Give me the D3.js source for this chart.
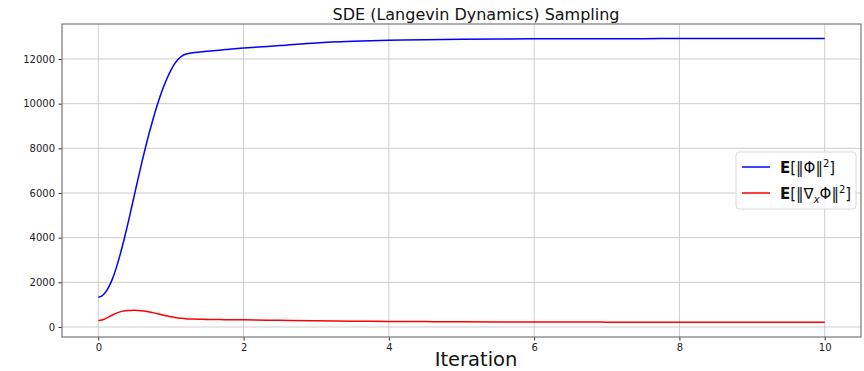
<!DOCTYPE html>
<html>
<head>
<meta charset="utf-8">
<script src="https://cdn.jsdelivr.net/npm/d3@7"></script>
<style>
  body { margin: 0; background: #fff; }
  text { font-family: "DejaVu Sans", sans-serif; }
</style>
</head>
<body>
<div id="chart"></div>
<script>
// iteration (x axis, scaled)
var iterX = [0, 0.05, 0.1, 0.15, 0.2, 0.25, 0.3, 0.35, 0.4, 0.45, 0.5, 0.55, 0.6, 0.65, 0.7,
    0.75, 0.8, 0.85, 0.9, 0.95, 1.0, 1.05, 1.1, 1.15, 1.2, 1.3, 1.4, 1.5, 1.75, 2.0, 2.5,
    3.0, 3.5, 4.0, 4.5, 5.0, 5.5, 6.0, 6.5, 7.0, 7.5, 8.0, 8.5, 9.0, 9.5, 10.0];

// E[||Phi||^2]
var phiNorm = [1330, 1390, 1560, 1830, 2200, 2680, 3240, 3860, 4530, 5240, 5960, 6680, 7380, 8050, 8680,
    9270, 9820, 10320, 10770, 11160, 11500, 11780, 11990, 12130, 12210, 12280, 12315, 12345, 12420, 12490, 12600,
    12720, 12790, 12835, 12865, 12885, 12898, 12905, 12908, 12910, 12912, 12914, 12917, 12916, 12918, 12918];

// E[||grad_x Phi||^2]
var gradNorm = [290, 312, 375, 462, 550, 622, 677, 713, 734, 744, 745, 738, 723, 702, 675,
    643, 606, 567, 528, 491, 458, 429, 405, 387, 373, 357, 347, 340, 329, 319, 297,
    276, 261, 250, 241, 233, 227, 223, 220, 218, 216, 214, 213, 212, 211, 210];

var xTicks = [0, 2, 4, 6, 8, 10];
var yTicks = [0, 2000, 4000, 6000, 8000, 10000, 12000];

var W = 864, H = 371;
var margin = { top: 24, right: 3, bottom: 34, left: 62 };
var width = W - margin.left - margin.right,
    height = H - margin.top - margin.bottom;

var svg = d3.select("#chart").append("svg")
    .attr("width", W)
    .attr("height", H);

var g = svg.append("g")
    .attr("transform", "translate(" + margin.left + "," + margin.top + ")");

var x = d3.scaleLinear().domain([-0.5, 10.5]).range([0, width]);
var y = d3.scaleLinear().domain([-448, 13567]).range([height, 0]);

// grid
g.selectAll(".xgrid").data(xTicks).enter().append("line")
    .attr("x1", function (d) { return x(d); })
    .attr("x2", function (d) { return x(d); })
    .attr("y1", 0).attr("y2", height)
    .attr("stroke", "#c8c8c8").attr("stroke-width", 0.9);
g.selectAll(".ygrid").data(yTicks).enter().append("line")
    .attr("y1", function (d) { return y(d); })
    .attr("y2", function (d) { return y(d); })
    .attr("x1", 0).attr("x2", width)
    .attr("stroke", "#c8c8c8").attr("stroke-width", 0.9);

// axes
var xAxis = g.append("g")
    .attr("transform", "translate(0," + height + ")")
    .call(d3.axisBottom(x).tickValues(xTicks).tickSize(3.5).tickPadding(3.5).tickFormat(d3.format("d")));
var yAxis = g.append("g")
    .call(d3.axisLeft(y).tickValues(yTicks).tickSize(3.5).tickPadding(3.5).tickFormat(d3.format("d")));
[xAxis, yAxis].forEach(function (a) {
    a.select(".domain").remove();
    a.selectAll(".tick line").attr("stroke", "#333");
    a.selectAll(".tick text").attr("fill", "#222").style("font-size", "10px")
        .style("font-family", "DejaVu Sans, sans-serif");
});

// lines
var pts = function (vals) { return iterX.map(function (d, i) { return [d, vals[i]]; }); };
var line = d3.line()
    .x(function (d) { return x(d[0]); })
    .y(function (d) { return y(d[1]); })
    .curve(d3.curveCatmullRom.alpha(0.5));

g.append("path").datum(pts(phiNorm))
    .attr("fill", "none").attr("stroke", "#0000ff").attr("stroke-width", 1.5)
    .attr("d", line);
g.append("path").datum(pts(gradNorm))
    .attr("fill", "none").attr("stroke", "#ff0000").attr("stroke-width", 1.5)
    .attr("d", line);

// frame
g.append("rect")
    .attr("width", width).attr("height", height)
    .attr("fill", "none").attr("stroke", "#777").attr("stroke-width", 1.2);

// title and label
svg.append("text")
    .attr("x", 476).attr("y", 20)
    .attr("text-anchor", "middle")
    .style("font-size", "16px").attr("fill", "#111")
    .text("SDE (Langevin Dynamics) Sampling");
svg.append("text")
    .attr("x", 476).attr("y", 366)
    .attr("text-anchor", "middle")
    .style("font-size", "19.5px").attr("fill", "#111")
    .text("Iteration");

// legend
var leg = svg.append("g").attr("transform", "translate(736,152)");
leg.append("rect")
    .attr("width", 120).attr("height", 57).attr("rx", 3)
    .attr("fill", "#fff").attr("fill-opacity", 0.85)
    .attr("stroke", "#d8d8d8");
var items = [
    { color: "#0000ff", sub: null },
    { color: "#ff0000", sub: "x" }
];
items.forEach(function (it, i) {
    var yy = 15 + i * 26;
    leg.append("line")
        .attr("x1", 6).attr("x2", 34).attr("y1", yy).attr("y2", yy)
        .attr("stroke", it.color).attr("stroke-width", 1.5);
    var t = leg.append("text").attr("x", 44).attr("y", yy + 5.5)
        .style("font-size", "15px").attr("fill", "#111");
    t.append("tspan").style("font-weight", "bold").text("E");
    t.append("tspan").text("[\u2016");
    if (it.sub) {
        t.append("tspan").text("\u2207");
        t.append("tspan").attr("dy", 4).style("font-size", "10px").style("font-style", "italic").text(it.sub);
        t.append("tspan").attr("dy", -4).text("\u03A6\u2016");
    } else {
        t.append("tspan").text("\u03A6\u2016");
    }
    t.append("tspan").attr("dy", -6).style("font-size", "10px").text("2");
    t.append("tspan").attr("dy", 6).text("]");
});
</script>
</body>
</html>
